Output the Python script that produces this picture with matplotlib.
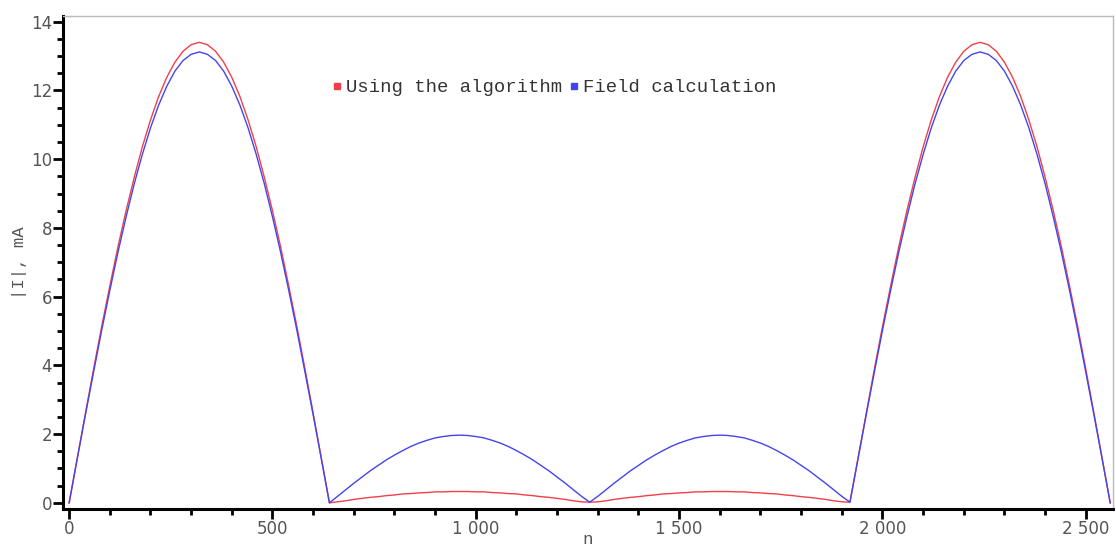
import matplotlib

matplotlib.use("Agg")
import matplotlib.pyplot as plt
from matplotlib.lines import Line2D
from matplotlib.ticker import FuncFormatter, MultipleLocator

# sample positions n (every 20 steps, 0..2560)
N = list(range(0, 2561, 20))

# |I| in mA, rising half of each arch (every 20 steps)
RED_BIG = [0.0, 1.31, 2.61, 3.89, 5.13, 6.31, 7.45, 8.50, 9.47, 10.36,
           11.14, 11.82, 12.38, 12.82, 13.14, 13.33, 13.40]
BLUE_BIG = [0.0, 1.29, 2.56, 3.80, 5.02, 6.18, 7.29, 8.32, 9.28, 10.14,
            10.91, 11.57, 12.12, 12.56, 12.87, 13.05, 13.12]
RED_SMALL = [0.02, 0.03, 0.06, 0.10, 0.13, 0.16, 0.18, 0.21, 0.23, 0.26,
             0.27, 0.29, 0.30, 0.32, 0.32, 0.33, 0.33]
BLUE_SMALL = [0.02, 0.19, 0.38, 0.57, 0.75, 0.93, 1.09, 1.25, 1.39, 1.52,
              1.64, 1.74, 1.82, 1.89, 1.93, 1.96, 1.97]


def arch(half):
    # arches are symmetric: rising half, then falling half (without repeating the peak)
    return half + half[-2::-1]


def series(big, small):
    # four arches joined at n = 640, 1280, 1920
    a1 = arch(big)
    a2 = arch(small)[1:]
    a3 = arch(small)[1:]
    a4 = arch(big)[1:]
    return a1 + a2 + a3 + a4


ALGORITHM = series(RED_BIG, RED_SMALL)
FIELD = series(BLUE_BIG, BLUE_SMALL)
LABELS = ["Using the algorithm", "Field calculation"]
RED = "#f0404a"
BLUE = "#4444ee"
MONO = "Liberation Mono"

fig, ax = plt.subplots(figsize=(11.16, 5.46), dpi=100)
fig.subplots_adjust(left=0.0565, right=0.997, top=0.971, bottom=0.068)

ax.plot(N, ALGORITHM, color=RED, lw=1.0)
ax.plot(N, FIELD, color=BLUE, lw=1.0)

ax.set_xlim(-15, 2566)
ax.set_ylim(-0.175, 14.17)

ax.xaxis.set_major_locator(MultipleLocator(500))
ax.xaxis.set_minor_locator(MultipleLocator(100))
ax.yaxis.set_major_locator(MultipleLocator(2))
ax.yaxis.set_minor_locator(MultipleLocator(0.5))
ax.xaxis.set_major_formatter(FuncFormatter(lambda v, p: f"{int(v):,}".replace(",", " ")))
ax.yaxis.set_major_formatter(FuncFormatter(lambda v, p: f"{int(v)}"))

ax.tick_params(which="major", length=7, width=2, color="black",
               labelsize=12, labelcolor="#555555", pad=1)
ax.tick_params(which="minor", length=4, width=2, color="black")

for side in ("left", "bottom"):
    ax.spines[side].set_linewidth(2.2)
    ax.spines[side].set_color("black")
for side in ("top", "right"):
    ax.spines[side].set_linewidth(1.0)
    ax.spines[side].set_color("#bbbbbb")

ax.set_ylabel("|I|, mA", family=MONO, fontsize=12.5, color="#555555", labelpad=3)
ax.set_xlabel("n", family=MONO, fontsize=12.5, color="#555555", labelpad=-4)

handles = [
    Line2D([], [], ls="none", marker="s", ms=4.5, color=RED),
    Line2D([], [], ls="none", marker="s", ms=4.5, color=BLUE),
]
ax.legend(handles, LABELS, ncol=2, loc="center", bbox_to_anchor=(0.468, 0.854),
          frameon=False, handlelength=0.5, handletextpad=0.2, columnspacing=0.4,
          prop={"family": MONO, "size": 13.6}, labelcolor="#333333")

fig.savefig("out.png", dpi=100)
